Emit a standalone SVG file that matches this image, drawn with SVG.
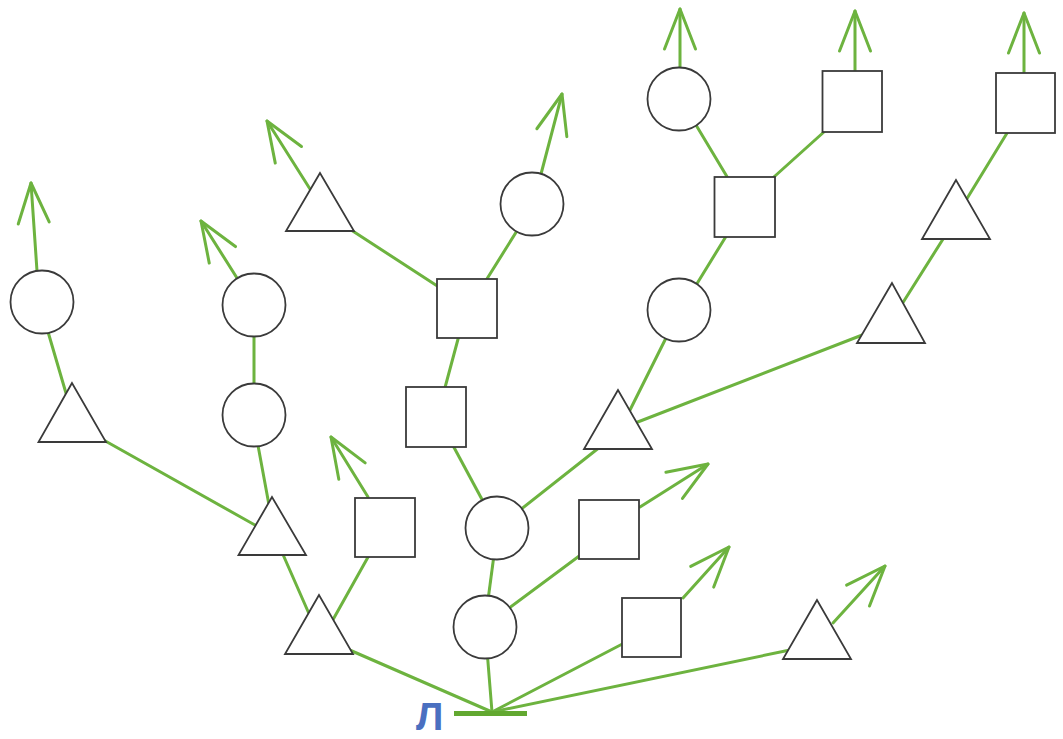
<svg xmlns="http://www.w3.org/2000/svg" width="1063" height="739" viewBox="0 0 1063 739">
<defs>
<style>
.c{stroke:#6db33f;stroke-width:3;fill:none;stroke-linecap:round}
.a{marker-end:url(#arr)}
.n{fill:#fff;stroke:#3a3a3a;stroke-width:1.8}
</style>
<marker id="arr" markerUnits="userSpaceOnUse" orient="auto" refX="0" refY="0" markerWidth="60" markerHeight="60" overflow="visible">
<path d="M-40,-15.5 L0,0 L-40,15.5" fill="none" stroke="#6db33f" stroke-width="3" stroke-linecap="round" stroke-linejoin="round"/>
</marker>
</defs>
<rect width="1063" height="739" fill="#fff"/>
<g id="connectors">
<line class="c" x1="492" y1="712" x2="345" y2="648"/>
<line class="c" x1="492" y1="712" x2="487" y2="650"/>
<line class="c" x1="492" y1="712" x2="630" y2="640"/>
<line class="c" x1="492" y1="712" x2="790" y2="650"/>
<line class="c" x1="310" y1="616" x2="281" y2="550"/>
<line class="c" x1="330" y1="625" x2="372" y2="550"/>
<line class="c a" x1="368" y1="497" x2="331" y2="437"/>
<line class="c" x1="257" y1="440" x2="269" y2="505"/>
<line class="c" x1="100" y1="438" x2="262" y2="529"/>
<line class="c" x1="46" y1="325" x2="68" y2="400"/>
<line class="c a" x1="37" y1="271" x2="31" y2="183"/>
<line class="c" x1="254" y1="330" x2="254" y2="390"/>
<line class="c a" x1="237" y1="278" x2="201" y2="221"/>
<line class="c" x1="488" y1="600" x2="494" y2="555"/>
<line class="c" x1="505" y1="611" x2="590" y2="548"/>
<line class="c a" x1="640" y1="507" x2="708" y2="464"/>
<line class="c a" x1="683" y1="598" x2="729" y2="547"/>
<line class="c a" x1="833" y1="623" x2="885" y2="566"/>
<line class="c" x1="485" y1="505" x2="450" y2="440"/>
<line class="c" x1="515" y1="514" x2="605" y2="443"/>
<line class="c" x1="443" y1="395" x2="461" y2="328"/>
<line class="c" x1="445" y1="291" x2="345" y2="226"/>
<line class="c a" x1="310" y1="189" x2="267" y2="121"/>
<line class="c" x1="480" y1="290" x2="520" y2="226"/>
<line class="c a" x1="541" y1="174" x2="562" y2="94"/>
<line class="c" x1="625" y1="420" x2="670" y2="330"/>
<line class="c" x1="630" y1="425" x2="870" y2="332"/>
<line class="c" x1="690" y1="295" x2="733" y2="225"/>
<line class="c" x1="738" y1="195" x2="690" y2="115"/>
<line class="c" x1="765" y1="185" x2="835" y2="122"/>
<line class="c a" x1="680" y1="67" x2="680" y2="9"/>
<line class="c a" x1="855" y1="71" x2="855" y2="11"/>
<line class="c" x1="897" y1="312" x2="950" y2="228"/>
<line class="c" x1="960" y1="210" x2="1015" y2="120"/>
<line class="c a" x1="1024" y1="73" x2="1024" y2="13"/>
<line x1="454" y1="713.5" x2="527" y2="713.5" stroke="#62a830" stroke-width="5"/>
</g>
<g id="root-label"><text x="416" y="730" font-family="Liberation Sans, Arial, sans-serif" font-weight="bold" font-size="39" fill="#4a6fc0">Л</text></g>
<g id="t1"><polygon class="n" points="319,595 285,654 353,654"/></g>
<g id="c-low"><circle class="n" cx="485" cy="627" r="31.5"/></g>
<g id="s-low"><rect class="n" x="622" y="598" width="59" height="59"/></g>
<g id="t-br"><polygon class="n" points="817,600 783,659 851,659"/></g>
<g id="t-ml"><polygon class="n" points="272,497 238.5,555 306,555"/></g>
<g id="s-l"><rect class="n" x="355" y="498" width="60" height="59"/></g>
<g id="t-l"><polygon class="n" points="72,383 38.5,442 106,442"/></g>
<g id="c-l1"><circle class="n" cx="42" cy="302" r="31.5"/></g>
<g id="c-l2"><circle class="n" cx="254" cy="415" r="31.5"/></g>
<g id="c-l3"><circle class="n" cx="254" cy="305" r="31.5"/></g>
<g id="c-mid"><circle class="n" cx="497" cy="528" r="31.5"/></g>
<g id="s-mid"><rect class="n" x="579" y="500" width="60" height="59"/></g>
<g id="s2"><rect class="n" x="406" y="387" width="60" height="60"/></g>
<g id="s1"><rect class="n" x="437" y="279" width="60" height="59"/></g>
<g id="t-top"><polygon class="n" points="320,173 286,231 354,231"/></g>
<g id="c-c"><circle class="n" cx="532" cy="204" r="31.5"/></g>
<g id="t-c"><polygon class="n" points="618,390 584,449 652,449"/></g>
<g id="c-r2"><circle class="n" cx="679" cy="310" r="31.5"/></g>
<g id="s-m"><rect class="n" x="714.5" y="177" width="60.5" height="60"/></g>
<g id="c-rt"><circle class="n" cx="679" cy="99" r="31.5"/></g>
<g id="s-t"><rect class="n" x="822.5" y="71" width="59.5" height="61"/></g>
<g id="t-rr"><polygon class="n" points="892,283 857,343 925,343"/></g>
<g id="t-ur"><polygon class="n" points="956,180 922,239 990,239"/></g>
<g id="s-tr"><rect class="n" x="996" y="73" width="59" height="60"/></g>
</svg>
